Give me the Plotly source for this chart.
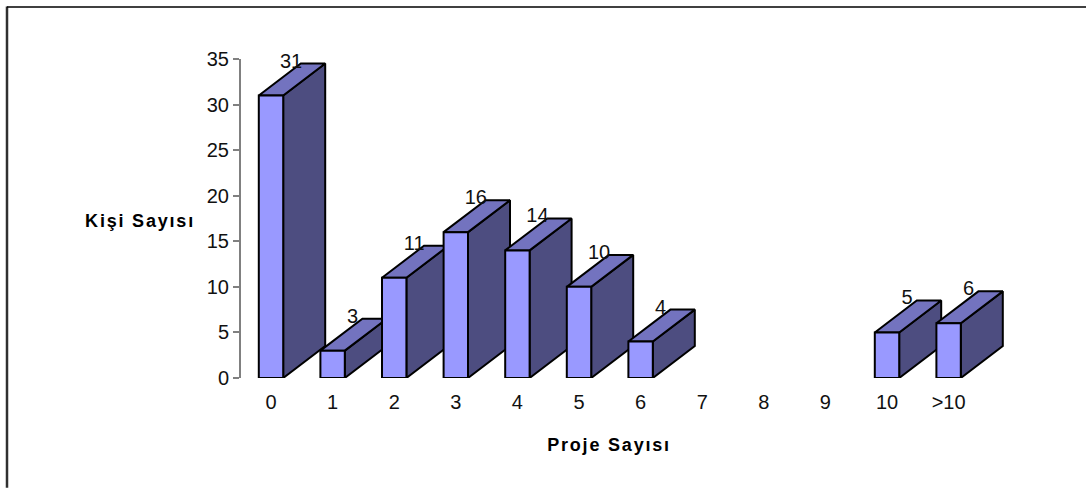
import plotly.graph_objects as go

categories = ["0", "1", "2", "3", "4", "5", "6", "7", "8", "9", "10", ">10"]
values = [31, 3, 11, 16, 14, 10, 4, None, None, None, 5, 6]
y_ticks = [0, 5, 10, 15, 20, 25, 30, 35]
x_title = "Proje Sayısı"
y_title = "Kişi Sayısı"

FRONT = "#9999FF"
TOP = "#7373BF"
SIDE = "#4D4D80"
FONT = "Liberation Sans, Arial, sans-serif"

W, H = 1086, 488
L, R, T, B = 241, 1010, 58.5, 378
PX_PER_CAT = 61.6
X_MIN = -(271 - L) / PX_PER_CAT
X_MAX = X_MIN + (R - L) / PX_PER_CAT
Y_MAX = 35
PX_PER_UNIT = (B - T) / Y_MAX

HALF = 12.2 / PX_PER_CAT
DX = 42 / PX_PER_CAT
DY = 32 / PX_PER_UNIT


def face(xs, ys, color):
    return go.Scatter(
        x=xs + xs[:1], y=ys + ys[:1], mode="lines", fill="toself",
        fillcolor=color, line=dict(color="black", width=2),
        hoverinfo="skip", showlegend=False, cliponaxis=False,
    )


fig = go.Figure()
for i, v in enumerate(values):
    if v is None:
        continue
    x0, x1 = i - HALF, i + HALF
    fig.add_trace(face([x1, x1 + DX, x1 + DX, x1], [0, DY, v + DY, v], SIDE))
    fig.add_trace(face([x0, x0 + DX, x1 + DX, x1], [v, v + DY, v + DY, v], TOP))
    fig.add_trace(face([x0, x1, x1, x0], [0, 0, v, v], FRONT))

pts = [(i, v) for i, v in enumerate(values) if v is not None]
fig.add_trace(go.Scatter(
    x=[p[0] + 20 / PX_PER_CAT for p in pts],
    y=[p[1] + 33 / PX_PER_UNIT for p in pts],
    text=[str(p[1]) for p in pts],
    mode="text", textposition="middle center",
    textfont=dict(family=FONT, size=20, color="#111111"),
    hoverinfo="skip", showlegend=False, cliponaxis=False,
))

px = lambda x: (x - L) / (R - L)
py = lambda y: (B - y) / (B - T)

fig.update_layout(
    width=W, height=H, autosize=False,
    margin=dict(l=L, r=W - R, t=T, b=H - B, pad=0),
    paper_bgcolor="white", plot_bgcolor="white",
    font=dict(family=FONT, size=20, color="black"),
    showlegend=False,
    xaxis=dict(
        range=[X_MIN, X_MAX], tickmode="array",
        tickvals=list(range(len(categories))), ticktext=categories,
        showgrid=False, zeroline=False, showline=False,
        ticks="outside", ticklen=6, tickcolor="rgba(0,0,0,0)",
        tickfont=dict(family=FONT, size=20, color="#111111"),
    ),
    yaxis=dict(
        range=[0, Y_MAX], tickmode="array", tickvals=y_ticks,
        showgrid=False, zeroline=False, showline=True,
        linecolor="#808080", linewidth=2,
        ticks="outside", ticklen=6, tickcolor="#808080", tickwidth=1.5,
        tickfont=dict(family=FONT, size=20, color="#111111"),
    ),
    annotations=[
        dict(text=f"<b>{y_title}</b>", xref="paper", yref="paper",
             x=px(140), y=py(221), showarrow=False,
             xanchor="center", yanchor="middle",
             font=dict(family=FONT, size=18, color="black")),
        dict(text=f"<b>{x_title}</b>", xref="paper", yref="paper",
             x=px(609), y=py(445), showarrow=False,
             xanchor="center", yanchor="middle",
             font=dict(family=FONT, size=18, color="black")),
    ],
    shapes=[
        dict(type="line", xref="paper", yref="paper", x0=px(7), x1=px(7),
             y0=py(6), y1=py(488), line=dict(color="#303030", width=2.5)),
        dict(type="line", xref="paper", yref="paper", x0=px(7), x1=px(1086),
             y0=py(6.5), y1=py(6.5), line=dict(color="black", width=1.5)),
    ],
)

fig.write_html(
    "out.html",
    config={"displayModeBar": False},
    post_script=(
        "document.body.style.margin='0';"
        "document.querySelectorAll('.annotation-text').forEach("
        "function(e){e.style.letterSpacing='1.8px';});"
    ),
)
